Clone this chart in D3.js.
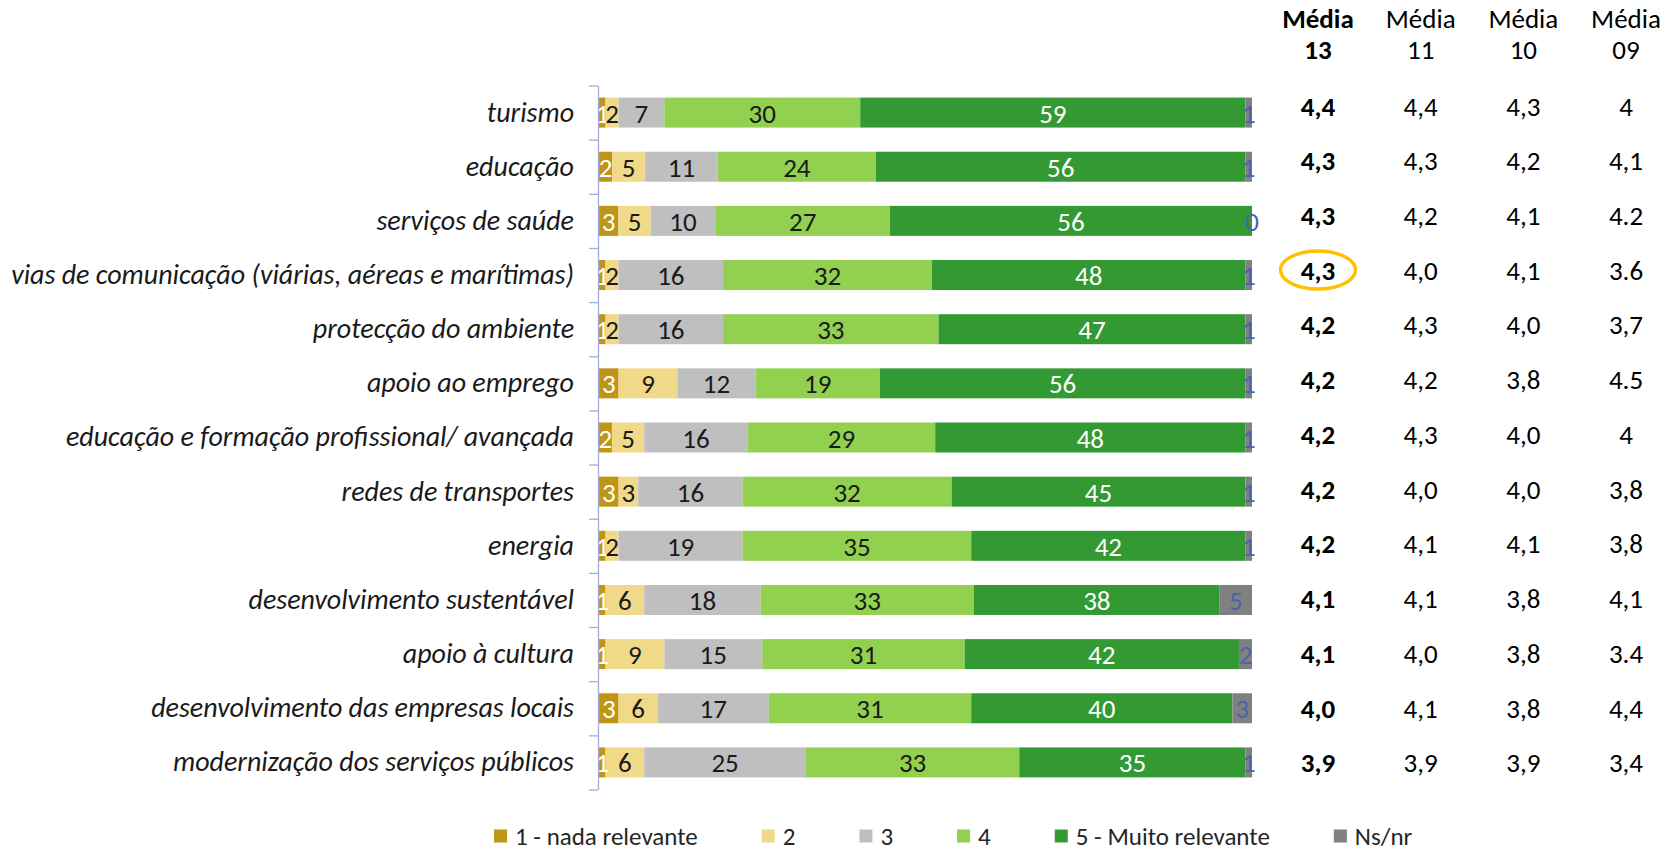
<!DOCTYPE html>
<html>
<head>
<meta charset="utf-8">
<script src="https://cdn.jsdelivr.net/npm/d3@7"></script>
<style>
  html, body { margin: 0; padding: 0; background: #ffffff; }
  svg { display: block; }
  text { font-family: Carlito, Calibri, Lato, "Open Sans", sans-serif; }
</style>
</head>
<body>
<svg id="chart" width="1675" height="850"></svg>
<script>
// Relevance of public-investment areas (%), one stacked bar per area
const categories = [
  "turismo",
  "educação",
  "serviços de saúde",
  "vias de comunicação (viárias, aéreas e marítimas)",
  "protecção do ambiente",
  "apoio ao emprego",
  "educação e formação profissional/ avançada",
  "redes de transportes",
  "energia",
  "desenvolvimento sustentável",
  "apoio à cultura",
  "desenvolvimento das empresas locais",
  "modernização dos serviços públicos"
];

const seriesNames = ["1 - nada relevante", "2", "3", "4", "5 - Muito relevante", "Ns/nr"];

const nadaRelevante  = [1, 2, 3, 1, 1, 3, 2, 3, 1, 1, 1, 3, 1];
const nivel2         = [2, 5, 5, 2, 2, 9, 5, 3, 2, 6, 9, 6, 6];
const nivel3         = [7, 11, 10, 16, 16, 12, 16, 16, 19, 18, 15, 17, 25];
const nivel4         = [30, 24, 27, 32, 33, 19, 29, 32, 35, 33, 31, 31, 33];
const muitoRelevante = [59, 56, 56, 48, 47, 56, 48, 45, 42, 38, 42, 40, 35];
const nsNr           = [1, 1, 0, 1, 1, 1, 1, 1, 1, 5, 2, 3, 1];

// Mean scores by survey year, as printed
const tableHeaders = [["Média", "13"], ["Média", "11"], ["Média", "10"], ["Média", "09"]];
const media13 = ["4,4", "4,3", "4,3", "4,3", "4,2", "4,2", "4,2", "4,2", "4,2", "4,1", "4,1", "4,0", "3,9"];
const media11 = ["4,4", "4,3", "4,2", "4,0", "4,3", "4,2", "4,3", "4,0", "4,1", "4,1", "4,0", "4,1", "3,9"];
const media10 = ["4,3", "4,2", "4,1", "4,1", "4,0", "3,8", "4,0", "4,0", "4,1", "3,8", "3,8", "3,8", "3,9"];
const media09 = ["4", "4,1", "4.2", "3.6", "3,7", "4.5", "4", "3,8", "3,8", "4,1", "3.4", "4,4", "3,4"];
const highlightedRow = 3;

// Build the rows for the stack layout
const seriesArrays = [nadaRelevante, nivel2, nivel3, nivel4, muitoRelevante, nsNr];
const rows = categories.map((c, i) => {
  const r = { category: c };
  seriesNames.forEach((k, j) => { r[k] = seriesArrays[j][i]; });
  return r;
});

const colors = ["#BF9517", "#F1D98A", "#BFBFBF", "#92D050", "#339A33", "#808080"];
const labelColors = ["#ffffff", "#1a1a1a", "#1a1a1a", "#1a1a1a", "#ffffff", "#4A63AB"];

const svg = d3.select("#chart");

const plotTop = 85.5, plotBottom = 789.5;
const x = d3.scaleLinear().domain([0, 1]).range([599, 1252]);
const y = d3.scaleBand().domain(categories).range([plotTop, plotBottom])
  .paddingInner(0.446).paddingOuter(0.223);

const stack = d3.stack().keys(seriesNames).offset(d3.stackOffsetExpand);
const stacked = stack(rows);

// Bars
const layers = svg.append("g").selectAll("g")
  .data(stacked).join("g")
  .attr("fill", (d, i) => colors[i]);

layers.selectAll("rect")
  .data(d => d).join("rect")
  .attr("x", d => x(d[0]))
  .attr("y", d => y(d.data.category))
  .attr("width", d => Math.max(0, x(d[1]) - x(d[0])))
  .attr("height", y.bandwidth());

// Segment value labels
const labelLayers = svg.append("g").selectAll("g")
  .data(stacked).join("g")
  .attr("fill", (d, i) => labelColors[i]);

labelLayers.selectAll("text")
  .data((d) => d.map(p => ({ p, key: d.key })))
  .join("text")
  .attr("x", d => (x(d.p[0]) + x(d.p[1])) / 2)
  .attr("y", d => y(d.p.data.category) + y.bandwidth() / 2 + 10)
  .attr("text-anchor", "middle")
  .attr("font-size", 27)
  .text(d => d.p.data[d.key]);

// Category axis: tick marks at band boundaries
const boundary = d3.scaleLinear().domain([0, categories.length]).range([plotTop, plotBottom]);
const tickAxis = svg.append("g")
  .attr("transform", "translate(598,0)")
  .call(d3.axisLeft(boundary).tickValues(d3.range(categories.length + 1)).tickSize(9).tickSizeOuter(0).tickFormat(""));
tickAxis.selectAll("path, line").attr("stroke", "#A3ACD6").attr("stroke-width", 1.3);

// Category labels
const labelAxis = svg.append("g")
  .attr("transform", "translate(598,0)")
  .call(d3.axisLeft(y).tickSize(0).tickPadding(24));
labelAxis.select(".domain").remove();
labelAxis.selectAll("text")
  .attr("font-size", 28)
  .attr("font-style", "italic")
  .attr("font-family", "Carlito, Calibri, Lato, sans-serif")
  .attr("fill", "#1a1a1a");

// Mean-score table on the right
const colX = d3.scalePoint().domain(d3.range(tableHeaders.length)).range([1318, 1626]);
const tableRow = d3.scaleLinear().domain([0, categories.length - 1]).range([115.5, 772.4]);
const tableCols = [media13, media11, media10, media09];

const table = svg.append("g");
tableHeaders.forEach((h, j) => {
  const g = table.append("text")
    .attr("text-anchor", "middle")
    .attr("font-size", 27)
    .attr("font-weight", j === 0 ? "bold" : "normal")
    .attr("fill", "#000");
  g.append("tspan").attr("x", colX(j)).attr("y", 28).text(h[0]);
  g.append("tspan").attr("x", colX(j)).attr("y", 59).text(h[1]);
});

tableCols.forEach((col, j) => {
  table.append("g").selectAll("text")
    .data(col).join("text")
    .attr("x", colX(j))
    .attr("y", (d, i) => tableRow(i))
    .attr("text-anchor", "middle")
    .attr("font-size", 27)
    .attr("font-weight", j === 0 ? "bold" : "normal")
    .attr("fill", "#000")
    .text(d => d);
});

// Highlight ring around one mean value
table.append("ellipse")
  .attr("cx", colX(0))
  .attr("cy", tableRow(highlightedRow) - 9.7)
  .attr("rx", 37.5)
  .attr("ry", 19)
  .attr("fill", "none")
  .attr("stroke", "#FFC000")
  .attr("stroke-width", 3.4);

// Legend
const legend = svg.append("g").attr("transform", "translate(494,836)");
let lx = 0;
seriesNames.forEach((name, i) => {
  const item = legend.append("g").attr("transform", `translate(${lx},0)`);
  item.append("rect").attr("x", 0).attr("y", -6.5).attr("width", 13).attr("height", 13).attr("fill", colors[i]);
  const t = item.append("text").attr("x", 21).attr("y", 8.5)
    .attr("font-size", 25).attr("fill", "#262626").text(name);
  lx += 21 + t.node().getComputedTextLength() + 64;
});
</script>
</body>
</html>
